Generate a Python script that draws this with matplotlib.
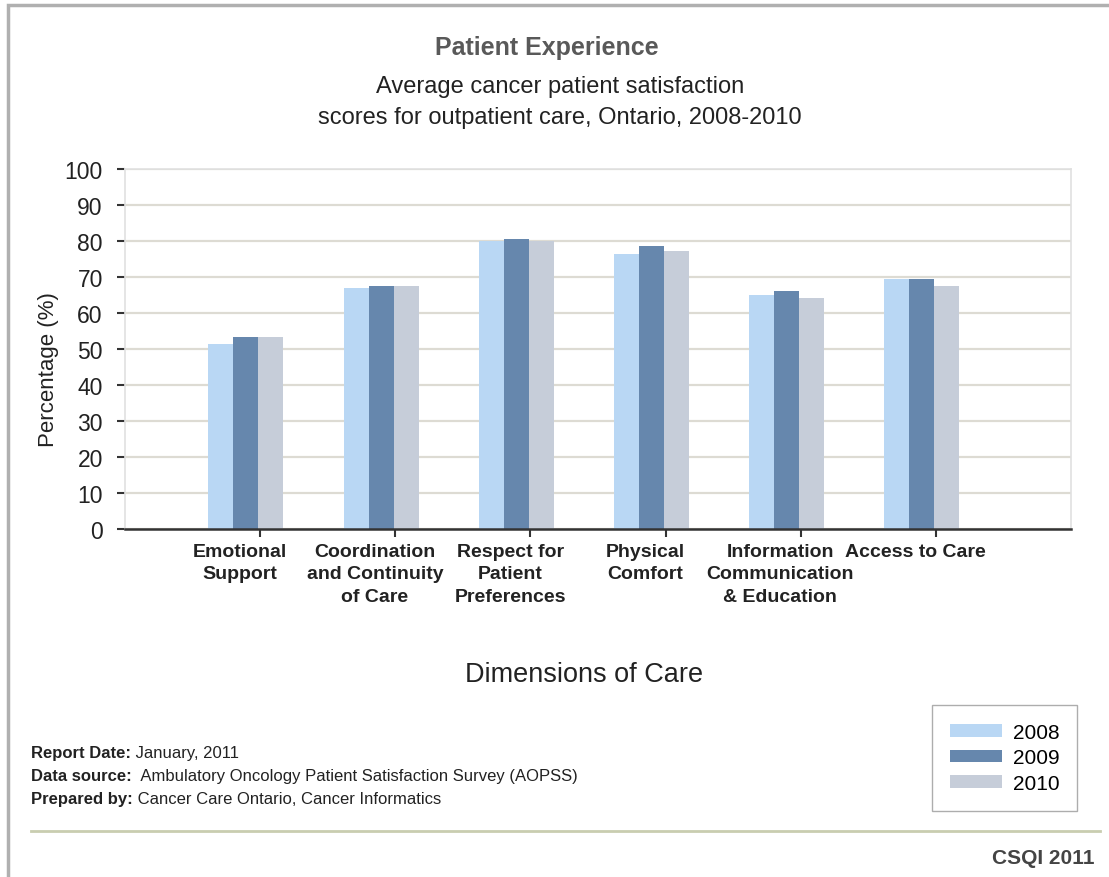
import matplotlib.pyplot as plt
from matplotlib.patches import Rectangle
from matplotlib.lines import Line2D

plt.rcParams['font.family'] = ['Liberation Sans', 'DejaVu Sans']

# Satisfaction scores (%) by dimension of care
dimensions = ['Emotional\nSupport', 'Coordination\nand Continuity\nof Care',
              'Respect for\nPatient\nPreferences', 'Physical\nComfort',
              'Information\nCommunication\n& Education', 'Access to Care']
years = ['2008', '2009', '2010']
scores_2008 = [51.4, 66.9, 79.9, 76.3, 64.9, 69.3]
scores_2009 = [53.4, 67.4, 80.6, 78.6, 66.1, 69.3]
scores_2010 = [53.4, 67.4, 79.9, 77.3, 64.1, 67.4]
colors = ['#b9d7f4', '#6687ad', '#c6cdd9']

fig = plt.figure(figsize=(11.09, 8.78), dpi=100)
ax = fig.add_axes([0.1127, 0.3964, 0.853, 0.41])

bar_w = 0.185
group_pos = [i + 0.895 for i in range(len(dimensions))]
for k, (vals, col, yr) in enumerate(zip([scores_2008, scores_2009, scores_2010], colors, years)):
    ax.bar([p + (k - 1) * bar_w for p in group_pos], vals, width=bar_w,
           color=col, label=yr, zorder=3)

ax.set_xlim(0, 7)
ax.set_ylim(0, 100)
ax.set_yticks(range(0, 101, 10))
ax.yaxis.grid(True, color='#dddbd3', linewidth=1.6, zorder=0)
ax.tick_params(axis='y', direction='out', length=6, width=1.5, color='#333333',
               labelsize=16.5, labelcolor='#222222', pad=10)

# category boundaries get the tick marks, labels sit under each group
ax.set_xticks([i + 0.85 for i in range(len(dimensions))])
ax.set_xticklabels(dimensions, fontsize=14, fontweight='bold', color='#222222',
                   linespacing=1.42, va='top')
ax.tick_params(axis='x', which='major', length=0, pad=10)
ax.set_xticks(range(1, 7), minor=True)
ax.tick_params(axis='x', which='minor', direction='out', length=6, width=1.5, color='#333333')

for side in ['left', 'right', 'top']:
    ax.spines[side].set_color('#e0e0e0')
    ax.spines[side].set_linewidth(1.2)
ax.spines['bottom'].set_color('#333333')
ax.spines['bottom'].set_linewidth(1.8)
ax.spines['bottom'].set_zorder(4)

ax.set_ylabel('Percentage (%)', fontsize=16, color='#222222')
ax.yaxis.set_label_coords(-0.07, 0.445)

# titles
fig.text(0.493, 0.945, 'Patient Experience', ha='center', va='center',
         fontsize=18, fontweight='bold', color='#595959')
fig.text(0.505, 0.8835, 'Average cancer patient satisfaction\nscores for outpatient care, Ontario, 2008-2010',
         ha='center', va='center', fontsize=17, color='#222222', linespacing=1.5)
fig.text(0.527, 0.231, 'Dimensions of Care', ha='center', va='center',
         fontsize=19.5, color='#222222')

# legend
ax.legend(loc='upper left', bbox_to_anchor=(0.853, -0.489), fontsize=15,
          frameon=True, fancybox=False, edgecolor='#999999', handlelength=2.5,
          handleheight=0.55, labelspacing=0.32, borderpad=0.85, handletextpad=0.55,
          borderaxespad=0)

# footnotes
notes = [('Report Date:', ' January, 2011'),
         ('Data source:', '  Ambulatory Oncology Patient Satisfaction Survey (AOPSS)'),
         ('Prepared by:', ' Cancer Care Ontario, Cancer Informatics')]
for j, (head, body) in enumerate(notes):
    t = fig.text(0.028, 0.137 - j * 0.0265, head, ha='left', va='baseline',
                 fontsize=12, fontweight='bold', color='#222222')
    ax.annotate(body, xy=(1, 0), xycoords=t, fontsize=12, color='#222222',
                va='bottom', ha='left', annotation_clip=False)

fig.add_artist(Line2D([0.028, 0.992], [0.0525, 0.0525], color='#c9cdb0', linewidth=2))
fig.text(0.987, 0.022, 'CSQI 2011', ha='right', va='center', fontsize=15,
         fontweight='bold', color='#444444')

# outer frame
fig.add_artist(Rectangle((0.0072, -0.05), 1.05, 1.043, transform=fig.transFigure,
                         fill=False, edgecolor='#b0b0b0', linewidth=2.5))

fig.savefig('out.png', dpi=100)
